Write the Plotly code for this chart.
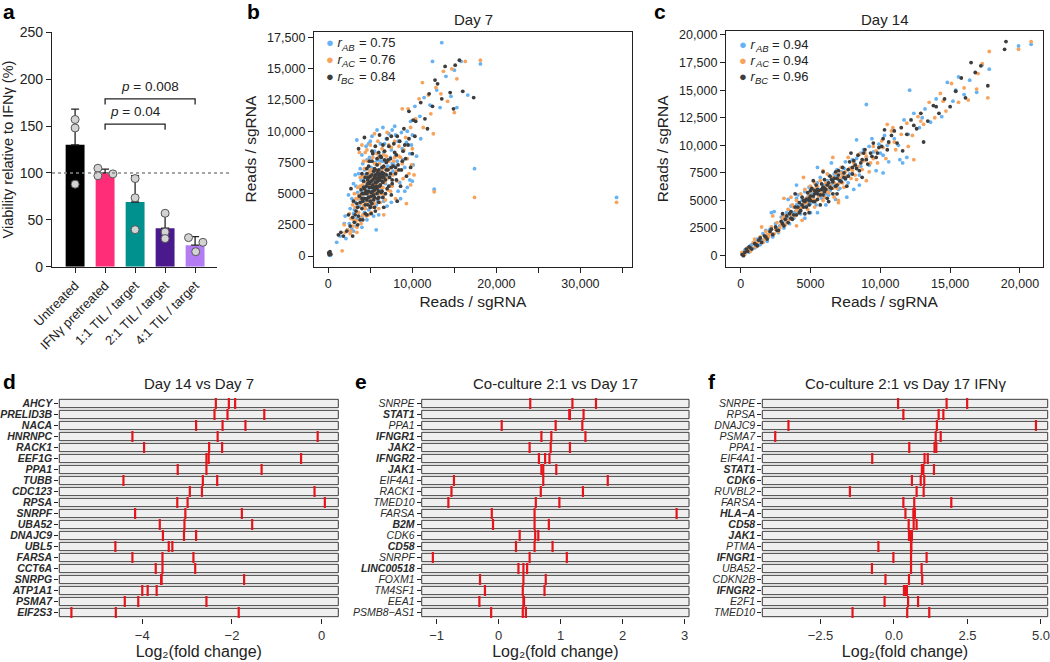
import plotly.graph_objects as go

W, H = 1050, 662
FONT = "Liberation Sans, Arial, Helvetica, sans-serif"
INK = "#222222"

# ---------------- Panel a : viability ----------------
A_CATS = ["Untreated", "IFNγ pretreated", "1:1 TIL / target", "2:1 TIL / target", "4:1 TIL / target"]
A_MEANS = [130, 100, 69, 41, 23]
A_SD = [38, 4, 28, 14, 9]
A_REPS = [[157, 148, 88], [105, 97, 99], [94, 73.5, 39.5], [57, 37, 30], [31, 26, 16]]
A_COLORS = ["#000000", "#FF2D78", "#00918E", "#4A1A8C", "#B47CF3"]
A_JITTER = [[0, 0, 0], [-0.24, -0.24, 0.26], [0, 0, 0], [0, 0, 0], [-0.22, 0.26, 0.02]]
A_YTICKS = [0, 50, 100, 150, 200, 250]
A_PTEXT = ["<i>p</i> = 0.04", "<i>p</i> = 0.008"]
A_PFROM = [1, 1]
A_PTO = [3, 4]
A_PLEVEL = [152, 179]

# ---------------- Panels b / c : read counts (thousands of reads; replicate x vs replicate y) ----
B_AB = [(2.1,1.4),(2.5,2.6),(2.8,2.2),(3.0,3.4),(3.2,4.3),(3.4,3.0),(3.5,5.1),(3.7,4.0),(3.9,6.1),(4.0,3.1),
        (4.2,5.1),(4.3,6.9),(4.4,4.3),(4.6,7.7),(4.7,5.5),(4.8,3.7),(4.9,6.3),(5.1,7.1),(5.2,4.6),(5.3,5.8),
        (5.5,8.4),(5.6,6.6),(5.7,4.1),(5.9,7.7),(6.0,5.7),(6.2,9.0),(6.3,7.0),(6.4,4.7),(6.6,8.3),(6.7,6.2),
        (6.9,9.4),(7.1,7.2),(7.3,5.6),(7.5,8.5),(7.7,6.8),(8.0,9.7),(8.2,7.6),(8.5,5.9),(8.8,8.6),(9.1,7.1),
        (9.4,10.0),(9.7,8.2),(10.0,6.0),(2.0,3.2),(3.0,5.8),(4.0,8.1),(5.0,9.2),(7.0,4.0),(8.6,4.6),(10.1,7.3),
        (1.0,1.1),(1.4,1.6),(9.7,6.1),(5.7,2.1),(9.8,10.8),(10.3,12.0),(10.9,11.2),(11.4,12.7),(12.1,12.1),
        (12.4,15.6),(12.9,13.3),(13.5,17.1),(13.3,11.9),(14.0,14.4),(14.6,12.8),(15.0,14.9),(15.3,11.9),
        (16.6,12.9),(18.1,15.4),(11.0,9.4),(17.4,7.0),(12.6,5.35),(34.3,4.7),(15.8,15.6),(0.1,0.3),(0.25,0.05),
        (4.5,5.9),(5.4,6.2),(6.1,6.6),(4.1,4.7),(5.0,5.2),(6.5,7.6),(3.6,4.6),(5.8,5.3),(7.4,7.9),(4.4,6.5),
        (3.3,5.6),(3.6,6.6),(4.1,7.4),(4.5,8.8),(5.2,9.6),(5.8,10.1),(4.9,7.9),(3.8,7.0),(2.8,4.6),(2.6,3.8),
        (3.1,3.7),(3.3,2.4),(4.0,2.3),(4.6,2.9),(5.0,4.3),(5.4,5.1),(5.9,4.4),(6.3,5.4),(6.8,5.8),(7.2,6.4),
        (7.6,7.4),(8.0,8.1),(8.3,9.2),(8.7,9.9),(9.3,9.1),(6.1,8.0),(6.7,9.0),(7.2,9.8),(7.9,10.4),(5.6,7.5),
        (4.2,6.1),(4.8,4.8),(3.7,5.5),(6.9,7.0),(7.8,7.3),(8.9,7.7),(9.9,8.9),(10.5,8.0),(2.3,2.1),(1.9,2.6),
        (6.0,3.3),(7.5,4.3),(8.3,5.2),(9.4,5.5),(3.2,6.5),(5.4,3.2),(4.3,3.5),(6.6,4.4),(5.0,6.8),(6.2,7.6),
        (3.4,9.3),(4.8,9.0),(2.4,4.9),(6.5,10.3),(7.6,10.1),(10.0,9.7),(9.1,5.2),(3.0,2.0)]
B_AC = [(2.3,2.1),(2.7,3.0),(2.9,2.4),(3.2,3.9),(3.3,2.8),(3.5,4.6),(3.6,3.5),(3.8,5.6),(3.9,2.6),(4.0,4.9),
        (4.1,6.4),(4.2,4.0),(4.3,7.0),(4.4,5.3),(4.5,3.2),(4.6,5.9),(4.7,7.6),(4.8,4.4),(4.9,6.7),(5.0,5.1),
        (5.1,3.5),(5.2,6.2),(5.3,7.9),(5.4,5.7),(5.5,4.2),(5.6,6.9),(5.7,5.3),(5.8,8.2),(5.9,6.4),(6.0,3.8),
        (6.1,7.4),(6.2,5.0),(6.3,6.8),(6.4,8.6),(6.5,5.5),(6.7,7.0),(6.8,4.5),(6.9,8.0),(7.0,6.2),(7.2,7.6),
        (7.4,5.2),(7.5,8.7),(7.7,6.5),(7.9,7.9),(8.2,6.0),(8.4,8.8),(8.8,7.4),(9.2,9.5),(9.6,6.6),(10.0,8.6),
        (3.1,5.0),(2.0,1.9),(4.4,8.3),(5.9,9.2),(6.6,3.3),(8.0,4.6),(9.3,4.2),(9.8,5.7),(10.2,6.5),(1.9,2.5),
        (9.5,11.8),(10.4,11.0),(10.8,12.6),(11.3,10.3),(11.9,12.9),(12.2,11.4),(12.8,13.5),(13.4,13.0),
        (13.7,14.8),(14.2,12.4),(14.7,15.0),(15.3,14.2),(18.1,15.7),(16.3,15.6),(12.5,9.8),(11.2,13.9),
        (15.0,11.5),(17.4,4.7),(12.6,5.15),(34.3,4.3),(1.65,0.42),(0.15,0.2),
        (4.3,4.6),(5.1,5.8),(5.6,6.1),(6.2,6.3),(4.7,5.0),(5.3,4.8),(6.6,6.0),(3.9,4.2),
        (2.5,3.4),(2.9,4.1),(3.3,4.6),(3.5,5.5),(3.8,6.3),(4.2,7.6),(4.6,8.5),(5.0,8.9),(3.0,2.9),(3.4,2.3),
        (3.7,2.9),(4.1,3.3),(4.4,3.8),(4.8,3.3),(5.3,3.9),(5.7,4.6),(6.2,4.3),(6.6,4.9),(7.1,5.3),(7.6,5.6),
        (8.1,6.8),(8.6,7.9),(9.0,8.5),(9.4,7.8),(7.9,9.2),(7.2,8.9),(6.6,8.1),(6.0,7.9),(5.5,7.4),(5.1,6.9),
        (4.6,6.4),(4.1,5.7),(3.6,4.9),(4.9,5.6),(5.4,6.6),(5.8,5.8),(6.3,6.2),(6.8,6.6),(7.3,7.0),(7.8,7.6),
        (8.4,8.0),(4.5,4.2),(5.0,4.7),(5.6,5.0),(6.1,5.5),(6.7,5.9),(2.7,2.0),(3.9,3.0),(8.9,6.2),(9.9,7.3),
        (3.7,8.3),(4.0,8.9),(5.5,9.8),(7.0,9.9),(2.6,1.8),(3.4,1.9),(8.8,11.8),(9.8,10.3)]
B_BC = [(2.6,2.4),(2.9,3.1),(3.1,2.7),(3.3,3.6),(3.4,4.2),(3.6,3.2),(3.7,4.8),(3.8,2.9),(3.9,5.3),(4.0,3.8),
        (4.1,4.4),(4.2,6.0),(4.3,5.0),(4.4,3.4),(4.5,5.6),(4.5,4.6),(4.6,6.6),(4.7,4.1),(4.8,5.2),(4.8,7.2),
        (4.9,5.9),(5.0,3.9),(5.0,6.4),(5.1,4.8),(5.2,5.5),(5.2,7.6),(5.3,6.1),(5.4,4.5),(5.4,6.8),(5.5,5.3),
        (5.6,5.9),(5.6,3.6),(5.7,6.5),(5.8,7.3),(5.8,5.0),(5.9,6.0),(6.0,4.3),(6.0,6.9),(6.1,5.6),(6.2,8.0),
        (6.2,6.3),(6.3,5.1),(6.4,7.1),(6.5,5.9),(6.5,4.7),(6.6,6.6),(6.7,8.4),(6.8,6.1),(6.9,7.5),(7.0,5.4),
        (7.1,6.9),(7.2,8.8),(7.3,6.3),(7.4,7.8),(7.6,5.8),(7.7,7.2),(7.8,9.0),(8.0,6.6),(8.1,8.1),(8.3,7.3),
        (8.5,9.2),(8.7,6.9),(8.9,8.4),(9.2,7.8),(9.5,8.9),(9.8,7.1),(3.0,4.4),(2.4,3.3),(4.0,6.6),(5.3,8.2),
        (6.6,3.9),(7.5,4.9),(1.8,1.6),(2.2,2.0),(9.0,10.2),(8.6,5.6),(10.3,9.6),
        (4.6,5.0),(4.9,5.5),(5.1,6.0),(5.3,5.2),(5.5,6.3),(5.7,5.6),(5.9,6.7),(6.1,6.1),(5.0,4.4),(5.4,4.9),
        (5.8,5.4),(6.3,6.6),(4.7,5.8),(5.6,6.9),(6.0,5.2),(6.4,6.0),(4.4,4.1),(5.2,4.2),(6.6,7.2),(5.5,7.0),
        (4.3,5.4),(6.9,6.5),(5.9,4.6),(4.8,6.3),(5.3,5.7),(5.7,6.2),(6.2,5.7),(5.1,5.1),(4.6,4.5),(6.5,6.4),
        (10.4,10.8),(11.0,12.3),(11.5,11.0),(12.0,13.0),(12.4,12.0),(13.0,13.8),(13.5,12.6),(13.9,15.2),
        (14.5,13.1),(15.1,15.3),(15.6,15.7),(12.7,14.1),(11.8,10.2),(14.9,11.8),(16.0,13.2),(17.3,12.7),
        (9.6,11.6),(10.0,8.2),(0.1,0.1),(0.2,0.35),(0.05,0.25),(0.3,0.15),(1.2,1.7),(1.5,1.9),
        (3.2,3.3),(3.5,3.9),(3.8,4.3),(4.0,5.0),(4.2,5.5),(4.4,6.3),(4.6,7.0),(4.9,7.6),(5.2,8.4),(5.6,8.8),
        (6.0,8.3),(6.5,8.9),(7.0,9.4),(7.5,9.6),(8.2,9.6),(3.5,2.5),(4.1,2.9),(4.6,3.3),(5.1,3.4),(5.5,3.9),
        (6.0,4.7),(6.4,5.2),(6.8,5.0),(7.2,5.6),(7.6,6.1),(8.1,6.1),(8.4,6.9),(8.8,7.6),(9.1,8.9),(9.6,9.4),
        (4.0,4.6),(4.5,5.2),(4.9,5.8),(5.2,6.5),(5.6,6.5),(6.0,6.3),(6.4,6.7),(6.7,7.7),(7.1,7.7),(7.5,7.1),
        (7.9,8.3),(5.5,4.7),(5.0,4.0),(4.3,4.6),(4.7,6.1),(5.8,7.8),(6.3,7.9),(6.9,6.9),(7.4,6.6),(8.0,7.1),
        (5.4,5.5),(5.7,5.9),(6.1,6.5),(4.8,4.7),(6.6,6.3),
        (2.9,1.6),(3.6,8.6),(4.3,9.5),(6.1,9.7),(9.3,6.4),(8.2,4.4),(2.7,5.4),(10.1,10.9)]

C_AB = [(0.2,0.2),(0.4,0.6),(0.6,0.3),(0.8,1.0),(1.0,0.7),(1.2,1.5),(1.4,1.0),(1.6,2.0),(1.9,1.3),(2.1,2.4),
        (2.3,1.7),(2.5,2.9),(2.7,2.1),(2.9,3.5),(3.1,2.5),(3.3,3.9),(3.5,2.9),(3.6,4.5),(3.8,3.4),(4.0,4.6),
        (4.1,5.5),(4.3,3.8),(4.4,5.0),(4.6,5.8),(4.7,4.5),(4.9,6.2),(5.0,3.9),(5.1,5.6),(5.3,6.6),(5.4,4.6),
        (5.5,5.7),(5.7,7.1),(5.8,5.2),(6.0,6.4),(6.1,4.6),(6.3,7.3),(6.4,5.9),(6.6,6.8),(6.8,5.1),(6.9,7.8),
        (7.1,6.1),(7.3,7.4),(7.5,8.5),(7.7,6.6),(7.9,7.9),(8.1,6.0),(8.3,8.8),(8.5,7.3),(8.8,9.6),(9.0,13.7),
        (9.2,8.2),(9.4,10.6),(9.7,7.7),(10.0,9.3),(10.3,10.9),(10.6,8.5),(10.9,11.4),(11.3,10.0),(11.4,8.7),
        (11.7,12.3),(12.1,15.0),(12.0,11.0),(12.4,12.9),(12.8,11.6),(13.2,13.3),(13.6,12.1),(14.0,14.2),
        (14.4,12.6),(14.8,15.7),(15.2,14.0),(15.6,16.2),(16.0,14.6),(16.4,15.9),(16.9,14.8),(17.3,17.3),
        (17.8,16.9),(19.9,19.0),(20.8,19.15),(2.4,4.0),(3.4,5.1),(6.5,8.4),(4.6,3.4),(7.6,5.3),(11.9,8.9),
        (5.2,5.3),(5.9,6.1),(6.7,6.3),(4.8,4.9),(3.9,4.0),(7.2,7.0),
        (0.3,0.5),(0.7,0.9),(1.1,1.3),(1.5,1.4),(1.8,2.3),(2.2,2.0),(2.6,2.5),(3.0,3.0),(3.4,3.4),(3.7,3.9),
        (4.1,4.2),(4.5,4.9),(4.8,5.3),(5.2,5.9),(5.6,5.4),(5.9,6.3),(6.2,6.8),(6.5,6.5),(6.8,7.2),(7.0,6.9),
        (7.4,7.9),(7.8,7.4),(8.2,8.3),(8.6,8.1),(9.0,8.9),(9.5,9.4),(9.9,10.1),(10.5,10.0),(11.0,10.6),(5.0,4.7),
        (4.3,4.5),(5.7,6.0),(6.1,5.6),(6.7,7.4),(7.2,7.6),(3.2,3.2),(2.8,2.7),(7.5,6.9),(8.0,8.7),(8.6,9.3),
        (4.0,5.2),(5.5,6.6),(6.3,5.5),(7.0,6.0),(9.2,9.9),(10.2,9.1),(13.0,12.5),(15.4,15.0),(1.3,1.0),(2.0,1.8),
        (2.2,3.9),(4.0,6.4),(5.5,8.0),(8.3,10.5),(5.5,3.9),(8.5,6.4),(10.2,7.5),(11.6,8.4)]
C_AC = [(0.1,0.3),(0.3,0.1),(0.5,0.7),(0.7,0.4),(0.9,1.2),(1.1,0.8),(1.4,1.7),(1.6,1.2),(1.8,2.2),(2.0,1.7),
        (2.2,2.6),(2.4,2.0),(2.6,3.0),(2.8,2.5),(3.0,3.4),(3.2,2.8),(3.4,4.2),(3.5,3.3),(3.7,4.6),(3.9,3.6),
        (4.0,5.0),(4.2,4.3),(4.3,5.6),(4.5,4.7),(4.6,6.0),(4.8,4.2),(4.9,5.4),(5.0,6.3),(5.2,5.1),(5.3,4.4),
        (5.4,6.1),(5.6,5.4),(5.7,6.8),(5.9,5.0),(6.0,6.2),(6.2,7.4),(6.3,5.7),(6.5,6.9),(6.7,5.3),(6.8,7.5),
        (7.0,6.5),(7.2,8.0),(7.4,6.2),(7.5,7.6),(7.7,8.9),(7.9,7.0),(8.1,8.4),(8.3,6.9),(8.5,9.2),(8.7,7.8),
        (9.0,9.0),(9.2,7.6),(9.5,9.9),(9.8,8.4),(10.1,10.4),(10.4,8.8),(10.8,11.3),(11.1,9.6),(11.5,11.0),
        (11.9,12.0),(12.3,10.9),(12.4,8.7),(12.7,12.6),(13.1,11.9),(13.5,13.9),(13.9,12.5),(14.3,14.7),
        (14.7,13.1),(15.1,15.6),(15.6,13.9),(16.0,15.2),(16.3,14.1),(16.9,15.1),(17.0,16.5),(17.3,17.4),
        (17.7,14.3),(17.8,18.5),(19.9,18.7),(20.8,19.4),(2.3,3.6),(3.6,5.3),(5.9,7.7),(4.4,3.2),(7.0,4.8),
        (1.5,2.6),(5.1,5.9),(6.1,6.6),(4.7,5.2),(6.6,6.1),(7.3,7.2),
        (0.4,0.4),(0.8,0.7),(1.2,1.2),(1.7,1.5),(2.1,2.0),(2.5,2.4),(2.9,2.8),(3.3,3.1),(3.6,3.7),(4.0,4.1),
        (4.4,4.4),(4.7,4.8),(5.1,5.2),(5.4,5.0),(5.8,5.7),(6.1,5.9),(6.4,6.4),(6.7,6.6),(7.1,7.0),(7.3,6.6),
        (7.6,7.2),(8.0,7.7),(8.4,8.1),(8.8,8.6),(9.3,8.4),(9.7,9.5),(10.2,9.8),(10.6,10.2),(11.0,10.3),(4.2,3.9),
        (4.9,5.7),(5.5,6.3),(6.0,5.3),(6.6,7.1),(7.2,7.5),(3.1,3.6),(2.7,2.2),(7.8,7.9),(8.2,7.3),(8.9,9.3),
        (3.8,4.4),(5.3,6.6),(6.2,6.0),(6.9,6.1),(9.5,8.8),(10.9,11.6),(12.9,12.2),(14.5,14.0),(1.0,1.5),(1.9,1.9),
        (3.1,5.2),(6.6,8.9),(4.5,7.1),(4.0,2.7),(7.0,5.0),(9.0,6.8),(10.5,11.9),(12.0,9.9)]
C_BC = [(0.1,0.1),(0.2,0.0),(0.3,0.3),(0.5,0.4),(0.6,0.8),(0.8,0.6),(1.0,1.1),(1.2,0.9),(1.3,1.4),(1.5,1.2),
        (1.7,1.8),(1.9,1.5),(2.1,2.2),(2.3,1.9),(2.5,2.6),(2.7,2.3),(2.9,3.1),(3.1,2.7),(3.3,3.6),(3.4,3.0),
        (3.6,4.0),(3.7,3.3),(3.9,4.4),(4.0,3.7),(4.2,4.8),(4.3,4.1),(4.4,5.3),(4.5,4.4),(4.6,3.8),(4.7,5.1),
        (4.8,5.7),(4.9,4.6),(5.0,5.4),(5.1,6.1),(5.2,4.9),(5.3,5.6),(5.4,6.4),(5.5,5.1),(5.6,5.9),(5.7,4.6),
        (5.8,6.5),(5.9,5.5),(6.0,6.9),(6.1,6.0),(6.2,5.2),(6.3,6.6),(6.4,7.2),(6.5,6.1),(6.6,5.6),(6.7,7.0),
        (6.8,7.6),(6.9,6.4),(7.0,7.3),(7.2,6.7),(7.3,8.0),(7.4,7.1),(7.6,6.3),(7.7,7.8),(7.8,8.5),(8.0,7.4),
        (8.2,8.2),(8.4,9.1),(8.5,7.7),(8.7,8.7),(8.9,9.6),(9.1,8.3),(9.3,9.3),(9.5,10.2),(9.7,8.9),(9.9,9.8),
        (10.2,10.6),(10.5,9.6),(10.8,10.9),(11.2,10.2),(11.5,11.6),(11.9,11.0),(12.2,12.3),(12.6,11.5),
        (12.9,12.9),(13.1,10.3),(13.4,12.2),(13.8,13.6),(14.2,12.9),(14.6,14.2),(15.0,13.5),(15.4,14.9),
        (15.8,16.1),(16.1,14.3),(16.5,17.5),(16.8,16.6),(17.2,17.2),(17.7,15.4),(18.9,18.7),(19.0,19.4),
        (6.3,4.9),(3.0,3.8),(5.2,6.8),(4.6,4.9),(5.0,5.0),(5.5,5.6),(6.0,5.8),(5.3,5.9),(4.9,5.2),(5.8,6.0),
        (0.4,0.6),(0.7,0.7),(1.1,1.0),(1.4,1.6),(1.8,1.7),(2.2,2.4),(2.6,2.3),(3.0,2.9),(3.2,3.3),(3.5,3.8),
        (3.8,3.7),(4.1,4.4),(4.4,4.6),(4.7,4.4),(4.9,5.0),(5.2,5.4),(5.4,5.8),(5.7,5.5),(6.0,6.1),(6.2,6.4),
        (6.4,6.2),(6.6,6.7),(6.9,7.0),(7.1,6.8),(7.4,7.5),(7.7,7.2),(8.0,8.0),(8.3,7.9),(8.6,8.4),(9.0,8.7),
        (9.4,9.0),(9.8,9.3),(10.1,9.9),(10.6,10.3),(11.0,11.3),(4.5,5.0),(5.0,5.9),(5.5,6.0),(5.9,6.2),(6.5,6.9),
        (7.0,7.7),(7.5,7.0),(4.2,3.9),(3.6,3.4),(8.1,8.6),(8.8,9.3),(6.8,6.3),(5.3,4.9),(12.4,11.8),(14.0,13.5),
        (3.9,5.6),(5.9,7.6),(7.9,9.3),(4.9,3.9),(6.9,5.6),(8.7,7.1),(10.3,11.4),(11.6,9.5)]

SERIES_NAMES = ["AB", "AC", "BC"]
SERIES_COLORS = ["#66B2F2", "#F7A35C", "#3D3D3D"]
B_R = ["0.75", "0.76", "0.84"]
C_R = ["0.94", "0.94", "0.96"]
B_XTICKS = [0, 10000, 20000, 30000]
B_XTEXT = ["0", "10,000", "20,000", "30,000"]
B_YTICKS = [0, 2500, 5000, 7500, 10000, 12500, 15000, 17500]
B_YTEXT = ["0", "2500", "5000", "7500", "10,000", "12,500", "15,000", "17,500"]
C_XTICKS = [0, 5000, 10000, 15000, 20000]
C_XTEXT = ["0", "5000", "10,000", "15,000", "20,000"]
C_YTICKS = [0, 2500, 5000, 7500, 10000, 12500, 15000, 17500, 20000]
C_YTEXT = ["0", "2500", "5000", "7500", "10,000", "12,500", "15,000", "17,500", "20,000"]

# ---------------- Panels d / e / f : log2 fold change per sgRNA ----------------
D_GENES = ["AHCY", "PRELID3B", "NACA", "HNRNPC", "RACK1", "EEF1G", "PPA1", "TUBB", "CDC123", "RPSA",
           "SNRPF", "UBA52", "DNAJC9", "UBL5", "FARSA", "CCT6A", "SNRPG", "ATP1A1", "PSMA7", "EIF2S3"]
D_BOLD = [True] * 20
D_LFC = [[-2.36, -2.07, -1.93], [-2.39, -2.10, -1.28], [-2.80, -2.21, -1.70], [-4.22, -2.32, -0.09],
         [-3.96, -2.51, -2.22], [-2.57, -2.52, -0.46], [-3.21, -2.57, -1.34], [-4.42, -2.65, -2.33],
         [-2.94, -2.67, -0.16], [-3.22, -2.99, 0.07], [-4.16, -3.04, -1.78], [-3.61, -3.06, -1.55],
         [-3.54, -3.07, -2.80], [-4.60, -3.41, -3.33], [-4.22, -3.55, -2.86], [-3.70, -3.55, -2.82],
         [-3.58, -3.57, -1.73], [-4.00, -3.88, -3.68], [-4.39, -4.09, -2.57], [-5.58, -4.59, -1.85]]
D_XTICKS = [-4, -2, 0]
D_XTEXT = ["−4", "−2", "0"]

E_GENES = ["SNRPE", "STAT1", "PPA1", "IFNGR1", "JAK2", "IFNGR2", "JAK1", "EIF4A1", "RACK1", "TMED10",
           "FARSA", "B2M", "CDK6", "CD58", "SNRPF", "LINC00518", "FOXM1", "TM4SF1", "EEA1", "PSMB8−AS1"]
E_BOLD = [False, True, False, True, True, True, True, False, False, False,
          False, True, False, True, False, True, False, False, False, False]
E_LFC = [[0.51, 1.19, 1.57], [1.14, 1.15, 1.37], [0.05, 0.92, 1.35], [0.69, 0.85, 1.40], [0.50, 0.84, 1.15],
         [0.65, 0.75, 0.82], [0.69, 0.72, 0.93], [-0.72, 0.72, 1.76], [-0.76, 0.68, 1.36], [-0.81, 0.60, 0.98],
         [-0.11, 0.58, 2.87], [-0.09, 0.58, 0.81], [0.34, 0.59, 0.64], [0.28, 0.58, 0.87], [-1.06, 0.50, 1.10],
         [0.32, 0.40, 0.46], [-0.30, 0.40, 0.76], [-0.22, 0.39, 0.74], [-0.31, 0.40, 0.41], [-0.12, 0.39, 0.44]]
E_XTICKS = [-1, 0, 1, 2, 3]
E_XTEXT = ["−1", "0", "1", "2", "3"]

F_GENES = ["SNRPE", "RPSA", "DNAJC9", "PSMA7", "PPA1", "EIF4A1", "STAT1", "CDK6", "RUVBL2", "FARSA",
           "HLA−A", "CD58", "JAK1", "PTMA", "IFNGR1", "UBA52", "CDKN2B", "IFNGR2", "E2F1", "TMED10"]
F_BOLD = [False, False, False, False, False, False, True, True, False, False,
          True, True, True, False, True, False, False, True, False, False]
F_LFC = [[0.14, 1.79, 2.49], [0.32, 1.52, 1.68], [-3.59, 1.46, 4.83], [-4.04, 1.42, 1.59], [0.52, 1.38, 1.44],
         [-0.74, 1.04, 1.15], [0.95, 1.00, 1.36], [0.61, 0.91, 1.03], [-1.50, 0.77, 1.01], [0.32, 0.69, 1.95],
         [0.39, 0.66, 0.71], [0.50, 0.67, 0.77], [0.51, 0.57, 0.61], [-0.53, 0.58, 0.59], [-0.02, 0.58, 1.11],
         [-0.75, 0.58, 0.94], [-0.29, 0.51, 0.96], [0.34, 0.40, 0.44], [-0.32, 0.48, 0.82], [-1.41, 0.45, 1.20]]
F_XTICKS = [-2.5, 0, 2.5, 5]
F_XTEXT = ["−2.5", "0.0", "2.5", "5.0"]
LFC_TITLE = "Log₂(fold change)"


# ---------------- helpers ----------------
def xd(a, b):
    return [a / W, b / W]


def yd(top, bot):
    return [1 - bot / H, 1 - top / H]


fig = go.Figure()
shapes = []
ann = []


def text(t, x, y, size, xanchor="center", yanchor="middle", color=INK, angle=0):
    ann.append(dict(text=t, x=x / W, y=1 - y / H, xref="paper", yref="paper", xanchor=xanchor,
                    yanchor=yanchor, showarrow=False, textangle=angle,
                    font=dict(family=FONT, size=size, color=color)))


# ---------------- panel a ----------------
idx = list(range(len(A_CATS)))
fig.add_trace(go.Bar(x=idx, y=A_MEANS, width=0.63, marker=dict(color=A_COLORS, line=dict(width=0)),
                     error_y=dict(type="data", symmetric=False, array=A_SD, arrayminus=[0] * len(A_SD),
                                  color=INK, thickness=1.3, width=4),
                     xaxis="x", yaxis="y", showlegend=False))
dx, dy = [], []
for i, reps in enumerate(A_REPS):
    for j, v in enumerate(reps):
        dx.append(i + A_JITTER[i][j])
        dy.append(v)
fig.add_trace(go.Scatter(x=dx, y=dy, mode="markers", xaxis="x", yaxis="y", showlegend=False,
                         marker=dict(size=8, color="#D3D3D3", line=dict(color="#555555", width=1))))
shapes.append(dict(type="line", xref="x domain", yref="y", x0=0, x1=1.08, y0=100, y1=100,
                   line=dict(color="#888888", width=1.6, dash="dot")))
for t, a, b, lv in zip(A_PTEXT, A_PFROM, A_PTO, A_PLEVEL):
    shapes.append(dict(type="path", xref="x", yref="y",
                       path=f"M {a},{lv - 6} L {a},{lv} L {b},{lv} L {b},{lv - 6}",
                       line=dict(color=INK, width=1.3)))
    ann.append(dict(text=t, x=(a + b) / 2, y=lv + 3, xref="x", yref="y", xanchor="center", yanchor="bottom",
                    showarrow=False, font=dict(family=FONT, size=13.5, color=INK)))

# ---------------- panels b / c ----------------
for series, ax in [((B_AB, B_AC, B_BC), "2"), ((C_AB, C_AC, C_BC), "3")]:
    for pts, col in zip(series, SERIES_COLORS):
        fig.add_trace(go.Scatter(x=[p[0] * 1000 for p in pts], y=[p[1] * 1000 for p in pts], mode="markers",
                                 marker=dict(size=3.8, color=col), xaxis="x" + ax, yaxis="y" + ax,
                                 showlegend=False))

# in-plot keys: coloured dot + italic r with a lowered small subscript + value
for rvals, x0, y0s in [(B_R, 324, [43, 59.5, 76]), (C_R, 737, [44, 60, 76])]:
    for nm, col, r, yy in zip(SERIES_NAMES, SERIES_COLORS, rvals, y0s):
        text(f'<span style="color:{col}">●</span> <i>r</i>', x0, yy, 13, xanchor="left")
        text(f"<i>{nm}</i>", x0 + 15.5, yy + 4, 9.5, xanchor="left")
        text(f"= {r}", x0 + 32.5, yy, 13, xanchor="left")

# ---------------- panels d / e / f ----------------
for genes, bold, lfc, ax in [(D_GENES, D_BOLD, D_LFC, "4"), (E_GENES, E_BOLD, E_LFC, "5"),
                             (F_GENES, F_BOLD, F_LFC, "6")]:
    xs, ys = [], []
    for i, vals in enumerate(lfc):
        for v in vals:
            xs.append(v)
            ys.append(i)
        shapes.append(dict(type="rect", xref=f"x{ax} domain", yref=f"y{ax}", x0=0, x1=1, y0=i - 0.38,
                           y1=i + 0.38, fillcolor="#EFEFEF", line=dict(color="#3A3A3A", width=1),
                           layer="below"))
    fig.add_trace(go.Scatter(x=xs, y=ys, mode="markers", xaxis="x" + ax, yaxis="y" + ax, showlegend=False,
                             marker=dict(symbol="line-ns", size=8, color="#E8141B",
                                         line=dict(color="#E8141B", width=2.2))))

# ---------------- axes ----------------
axis_common = dict(showgrid=False, zeroline=False, automargin=False, ticks="outside", ticklen=5, tickwidth=1.2,
                   tickcolor=INK, linecolor=INK, linewidth=1.3,
                   tickfont=dict(family=FONT, size=12.5, color=INK))

lay = dict(
    xaxis=dict(axis_common, domain=xd(52, 217), range=[-0.77, 4.73], tickvals=idx, ticktext=A_CATS,
               tickangle=-45, showline=True, anchor="y", tickfont=dict(family=FONT, size=13, color=INK)),
    yaxis=dict(axis_common, domain=yd(32.3, 266.7), range=[0, 250], tickvals=A_YTICKS, showline=True,
               anchor="x", tickfont=dict(family=FONT, size=14, color=INK),
               title=dict(text="Viability relative to IFNγ (%)", font=dict(family=FONT, size=14.5, color=INK),
                          standoff=6)),
    xaxis2=dict(axis_common, domain=xd(314, 631.7), range=[-1700, 36100], tickvals=B_XTICKS, ticktext=B_XTEXT,
                minor=dict(ticks="outside", ticklen=5, tickwidth=1.2, tickcolor=INK, tick0=0, dtick=5000,
                           showgrid=False),
                showline=True, mirror=True, anchor="y2",
                title=dict(text="Reads / sgRNA", font=dict(family=FONT, size=15.5, color=INK), standoff=6)),
    yaxis2=dict(axis_common, domain=yd(31.7, 266.5), range=[-840, 17980], tickvals=B_YTICKS, ticktext=B_YTEXT,
                showline=True, mirror=True, anchor="x2",
                title=dict(text="Reads / sgRNA", font=dict(family=FONT, size=15.5, color=INK), standoff=6)),
    xaxis3=dict(axis_common, domain=xd(726, 1043), range=[-1050, 21650], tickvals=C_XTICKS, ticktext=C_XTEXT,
                showline=True, mirror=True, anchor="y3",
                title=dict(text="Reads / sgRNA", font=dict(family=FONT, size=15.5, color=INK), standoff=6)),
    yaxis3=dict(axis_common, domain=yd(31, 266.7), range=[-1000, 20360], tickvals=C_YTICKS, ticktext=C_YTEXT,
                showline=True, mirror=True, anchor="x3",
                title=dict(text="Reads / sgRNA", font=dict(family=FONT, size=15.5, color=INK), standoff=6)),
)

for ax, genes, bold, dom, rng, tv, tt in [
        ("4", D_GENES, D_BOLD, (59.3, 338.3), [-5.85, 0.37], D_XTICKS, D_XTEXT),
        ("5", E_GENES, E_BOLD, (421.7, 689), [-1.24, 3.07], E_XTICKS, E_XTEXT),
        ("6", F_GENES, F_BOLD, (762.3, 1047.7), [-4.48, 5.23], F_XTICKS, F_XTEXT)]:
    labels = [f"<b><i>{g}</i></b>" if b else f"<i>{g}</i>" for g, b in zip(genes, bold)]
    lay["xaxis" + ax] = dict(axis_common, domain=xd(*dom), range=rng, tickvals=tv, ticktext=tt, showline=False,
                             anchor="y" + ax, tickfont=dict(family=FONT, size=13, color="#333333"),
                             title=dict(text=LFC_TITLE, font=dict(family=FONT, size=16, color=INK), standoff=4))
    lay["yaxis" + ax] = dict(axis_common, domain=yd(398, 618), range=[19.5, -0.5], tickvals=list(range(20)),
                             ticktext=labels, showline=False, anchor="x" + ax, ticklen=4,
                             tickfont=dict(family=FONT, size=10.5, color="#2A2A2A"))

# titles and panel letters
text("Day 7", 473, 20, 15)
text("Day 14", 884.5, 20, 15)
text("Day 14 vs Day 7", 198.8, 383, 15)
text("Co-culture 2:1 vs Day 17", 555, 383, 15)
text("Co-culture 2:1 vs Day 17 IFNγ", 905, 383, 15)
for letter, x, y in [("a", 1, 12), ("b", 245, 12), ("c", 652, 12), ("d", 1, 381), ("e", 353, 381), ("f", 706, 381)]:
    text(f"<b>{letter}</b>", x, y, 21, xanchor="left", color="#000000")

fig.update_layout(**lay)
fig.update_layout(template="none", width=W, height=H, margin=dict(l=0, r=0, t=0, b=0, pad=0),
                  paper_bgcolor="white", plot_bgcolor="rgba(0,0,0,0)", shapes=shapes, annotations=ann,
                  showlegend=False, font=dict(family=FONT, color=INK))

fig.write_html("out.html", include_plotlyjs=True, config={"displayModeBar": False},
               post_script="document.body.style.margin='0';document.body.style.overflow='hidden';")
